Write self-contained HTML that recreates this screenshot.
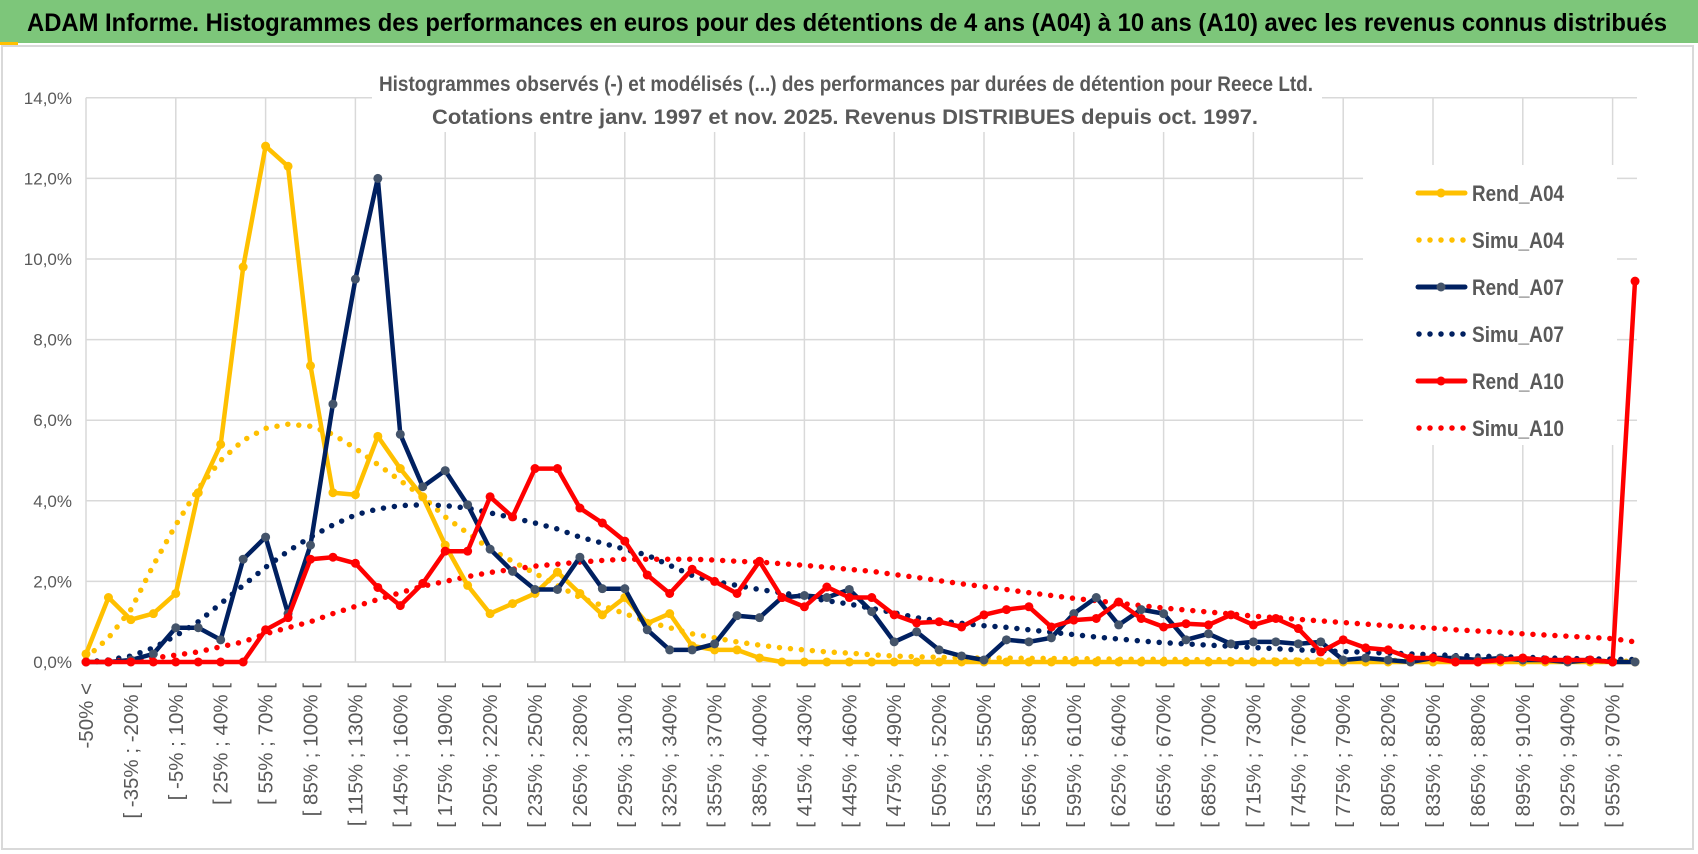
<!DOCTYPE html>
<html><head><meta charset="utf-8"><style>
html,body{margin:0;padding:0;background:#fff;width:1698px;height:854px;overflow:hidden}
svg{display:block;font-family:"Liberation Sans Narrow","Liberation Sans",sans-serif}
</style></head><body>
<svg id="chart" width="1698" height="854" viewBox="0 0 1698 854" xmlns="http://www.w3.org/2000/svg">
<rect x="0" y="0" width="1698" height="43" fill="#7DC67A"/>
<rect x="0" y="42" width="18" height="3" fill="#FFC000"/>
<text x="27" y="31" font-size="25" font-weight="bold" fill="#000" textLength="1640" lengthAdjust="spacingAndGlyphs">ADAM Informe. Histogrammes des performances en euros pour des détentions de 4 ans (A04) à 10 ans (A10) avec les revenus connus distribués</text>
<rect x="2" y="46" width="1691" height="803" fill="none" stroke="#D9D9D9" stroke-width="2"/>
<g id="grid"></g>
<rect x="372" y="62" width="950" height="70" fill="#fff"/>
<text x="846" y="91" font-size="21" font-weight="bold" fill="#595959" text-anchor="middle" textLength="934" lengthAdjust="spacingAndGlyphs">Histogrammes observés (-) et modélisés (...) des performances par durées de détention pour Reece Ltd.</text>
<text x="845" y="124" font-size="21" font-weight="bold" fill="#595959" text-anchor="middle" textLength="826" lengthAdjust="spacingAndGlyphs">Cotations entre janv. 1997 et nov. 2025. Revenus DISTRIBUES depuis oct. 1997.</text>
<g id="yaxis"></g>
<g id="xaxis"></g>
<rect x="1363" y="165" width="254" height="280" fill="#fff"/>
<g id="series"></g>
<g id="legend"></g>
</svg>
<script>
const categoryStarts = [];
for (let s = -50; s <= 970; s += 15) categoryStarts.push(s);
const yTicks = [0, 2, 4, 6, 8, 10, 12, 14];
const rendA04 = [0.2,1.6,1.05,1.2,1.7,4.2,5.4,9.8,12.8,12.3,7.35,4.2,4.15,5.6,4.8,4.1,2.9,1.9,1.2,1.45,1.7,2.23,1.7,1.17,1.6,0.96,1.2,0.4,0.3,0.3,0.1,0,0,0,0,0,0,0,0,0,0,0,0,0,0,0,0,0,0,0,0,0,0,0,0,0,0,0,0,0,0,0,0,0,0,0,0,0,0,0];
const simuA04 = [0.1,0.6,1.3,2.4,3.4,4.3,5.0,5.5,5.8,5.9,5.85,5.65,5.3,4.9,4.5,4.1,3.6,3.2,2.8,2.5,2.2,1.9,1.6,1.4,1.2,1.0,0.85,0.7,0.6,0.5,0.42,0.35,0.3,0.25,0.22,0.18,0.15,0.13,0.12,0.1,0.1,0.1,0.09,0.09,0.08,0.08,0.07,0.07,0.07,0.06,0.06,0.06,0.05,0.05,0.05,0.05,0.04,0.04,0.04,0.04,0.03,0.03,0.03,0.03,0.03,0.02,0.02,0.02,0.02,0.02];
const rendA07 = [0,0,0.05,0.2,0.85,0.85,0.55,2.55,3.1,1.2,2.9,6.4,9.5,12.0,5.65,4.35,4.75,3.9,2.8,2.25,1.8,1.8,2.6,1.82,1.82,0.8,0.3,0.3,0.45,1.15,1.1,1.6,1.65,1.6,1.8,1.25,0.5,0.75,0.3,0.15,0.05,0.55,0.5,0.6,1.2,1.6,0.92,1.3,1.2,0.55,0.7,0.45,0.5,0.5,0.45,0.5,0.05,0.1,0.05,0,0.1,0.1,0.05,0.1,0.05,0.05,0,0.05,0,0];
const simuA07 = [0,0.05,0.15,0.35,0.65,1.0,1.45,1.9,2.35,2.75,3.1,3.4,3.65,3.8,3.88,3.9,3.88,3.82,3.7,3.58,3.45,3.3,3.1,2.95,2.8,2.65,2.4,2.15,2.0,1.9,1.8,1.72,1.62,1.52,1.44,1.33,1.22,1.1,1.02,0.96,0.9,0.86,0.8,0.74,0.68,0.62,0.57,0.52,0.48,0.45,0.42,0.39,0.36,0.33,0.3,0.28,0.26,0.24,0.22,0.2,0.18,0.16,0.15,0.13,0.12,0.1,0.09,0.08,0.07,0.06];
const rendA10 = [0,0,0,0,0,0,0,0,0.8,1.1,2.55,2.6,2.45,1.85,1.4,1.95,2.75,2.75,4.1,3.6,4.8,4.8,3.82,3.45,3.0,2.16,1.7,2.3,2.0,1.7,2.5,1.6,1.37,1.86,1.6,1.6,1.17,0.97,1.0,0.87,1.17,1.3,1.37,0.87,1.04,1.08,1.49,1.08,0.87,0.95,0.92,1.17,0.92,1.08,0.83,0.25,0.55,0.35,0.3,0.1,0.1,0,0,0.05,0.1,0.05,0.05,0.05,0,9.45];
const simuA10 = [0,0.02,0.05,0.1,0.17,0.25,0.38,0.5,0.7,0.85,1.0,1.2,1.38,1.55,1.72,1.88,2.0,2.12,2.22,2.3,2.38,2.43,2.48,2.52,2.55,2.55,2.55,2.55,2.53,2.5,2.48,2.44,2.4,2.35,2.3,2.25,2.17,2.1,2.02,1.94,1.87,1.8,1.72,1.65,1.58,1.52,1.46,1.4,1.34,1.29,1.24,1.19,1.14,1.1,1.06,1.02,0.98,0.94,0.9,0.87,0.84,0.8,0.77,0.74,0.7,0.67,0.64,0.61,0.58,0.5];
const seriesNames = ["Rend_A04","Simu_A04","Rend_A07","Simu_A07","Rend_A10","Simu_A10"];

const NS = "http://www.w3.org/2000/svg";
const X0 = 86, DX = 22.45, Y0 = 662, DY = 40.3;
const N = rendA04.length;
function xs(i){ return X0 + i*DX; }
function yv(v){ return Y0 - v*DY; }
function mk(tag, attrs, parent){ const e=document.createElementNS(NS,tag); for(const k in attrs) e.setAttribute(k,attrs[k]); parent.appendChild(e); return e; }

const grid = document.getElementById('grid');
yTicks.forEach(t=>{
  const l = mk('line',{x1:X0,x2:1637,y1:yv(t),y2:yv(t),stroke:'#D9D9D9','stroke-width':1.5},grid);
  
  
});
for(let i=0;i<N;i+=4){
  const l = mk('line',{x1:xs(i),x2:xs(i),y1:yv(14),y2:Y0,stroke:'#D9D9D9','stroke-width':1.5},grid);
  
  
}
const yax = document.getElementById('yaxis');
yTicks.forEach(t=>{
  const tx = mk('text',{x:72,y:yv(t)+6,'font-size':17,fill:'#595959','text-anchor':'end','font-family':'Liberation Sans, sans-serif'},yax);
  tx.textContent = t.toFixed(1).replace('.',',')+'%';
  
  
});
const xax = document.getElementById('xaxis');
for(let i=0;i<N;i+=2){
  let lab;
  if(i===0) lab = '-50% <';
  else { const s = categoryStarts[i-1]; lab = '[ '+s+'% ; '+(s+15)+'% ['; }
  const x = xs(i)+7, y = 683;
  const tx = mk('text',{x:x,y:y,'font-size':20.5,fill:'#595959','text-anchor':'end',transform:`rotate(-90 ${x} ${y})`,'font-family':'Liberation Sans, sans-serif'},xax);
  tx.textContent = lab;
  
  
}
const ser = document.getElementById('series');
function pts(arr){ return arr.map((v,i)=>xs(i).toFixed(1)+','+yv(v).toFixed(1)).join(' '); }
function dotted(arr,color,name){
  const p = mk('polyline',{points:pts(arr),fill:'none',stroke:color,'stroke-width':5.5,'stroke-linecap':'round','stroke-dasharray':'0 11'},ser);
  
  
}
function solid(arr,color,mcol,name){
  const p = mk('polyline',{points:pts(arr),fill:'none',stroke:color,'stroke-width':4.5,'stroke-linejoin':'round'},ser);
  
  
  arr.forEach((v,i)=>{
    const c = mk('circle',{cx:xs(i),cy:yv(v),r:4.5,fill:mcol},ser);
    
    
  });
}
dotted(simuA04,'#FFC000','simu-a04-line');
dotted(simuA07,'#002060','simu-a07-line');
dotted(simuA10,'#FF0000','simu-a10-line');
solid(rendA04,'#FFC000','#FFC000','rend-a04-line');
solid(rendA07,'#002060','#44546A','rend-a07-line');
solid(rendA10,'#FF0000','#FF0000','rend-a10-line');

const leg = document.getElementById('legend');
const legColors = ['#FFC000','#FFC000','#002060','#002060','#FF0000','#FF0000'];
const legMarker = ['#FFC000',null,'#44546A',null,'#FF0000',null];
seriesNames.forEach((n,k)=>{
  const y = 193 + k*47;
  const g = mk('g',{},leg);
  
  
  if(k%2===0){
    mk('line',{x1:1418,x2:1465,y1:y,y2:y,stroke:legColors[k],'stroke-width':5,'stroke-linecap':'round'},g);
    mk('circle',{cx:1441,cy:y,r:4.5,fill:legMarker[k]},g);
  } else {
    mk('line',{x1:1419,x2:1466,y1:y,y2:y,stroke:legColors[k],'stroke-width':5.5,'stroke-linecap':'round','stroke-dasharray':'0 11'},g);
  }
  const t = mk('text',{x:1472,y:y+8,'font-size':22,fill:'#595959','font-weight':'bold',textLength:92,lengthAdjust:'spacingAndGlyphs'},g);
  t.textContent = n;
});
</script>
</body></html>
